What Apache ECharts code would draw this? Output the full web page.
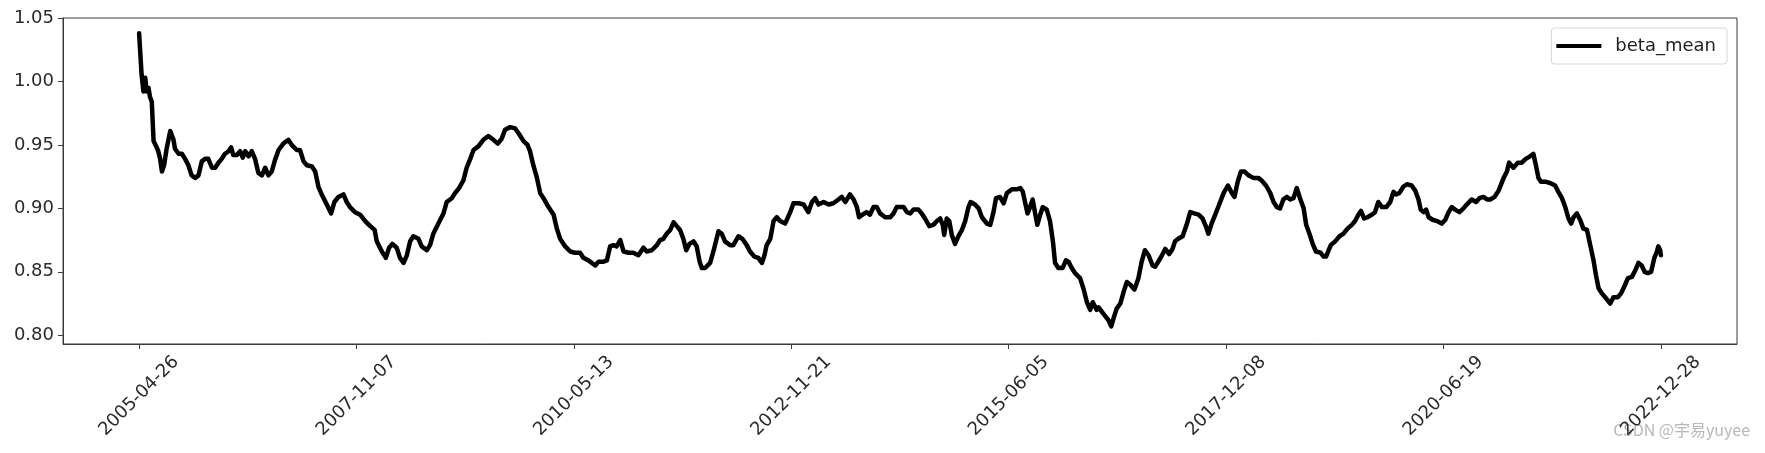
<!DOCTYPE html>
<html>
<head>
<meta charset="utf-8">
<script src="https://cdn.jsdelivr.net/npm/echarts@6/dist/echarts.min.js"></script>
<style>html,body{margin:0;padding:0;background:#fff;}#c{width:1765px;height:453px;}</style>
</head>
<body>
<div id="c"></div>
<script>
// row index (trading-day position) of each sampled point
const xIndex = [
0,7,12,17,21,26,30,35,40,47,
53,58,63,69,76,86,95,99,109,118,
127,136,145,155,164,173,182,191,201,210,
219,228,237,247,254,260,270,279,286,293,
302,311,320,329,339,348,357,366,375,385,
398,412,421,435,444,454,463,477,486,495,
504,518,530,539,550,564,573,582,596,610,
624,638,650,656,670,681,690,699,711,720,
730,739,748,757,771,780,794,803,812,826,
840,849,863,872,883,895,904,914,923,937,
950,964,978,990,1001,1010,1024,1038,1050,1061,
1072,1079,1088,1098,1107,1116,1130,1144,1153,1162,
1176,1190,1203,1217,1226,1240,1259,1268,1282,1291,
1300,1309,1318,1328,1337,1351,1364,1378,1392,1401,
1415,1429,1438,1447,1456,1466,1475,1484,1493,1502,
1510,1519,1530,1539,1547,1553,1562,1576,1585,1599,
1608,1617,1631,1640,1654,1665,1677,1686,1698,1709,
1719,1726,1732,1742,1751,1760,1769,1783,1797,1806,
1820,1834,1847,1857,1866,1875,1889,1903,1916,1930,
1939,1949,1962,1972,1981,1987,1996,2008,2017,2027,
2036,2045,2059,2073,2082,2091,2110,2119,2128,2137,
2151,2160,2169,2181,2192,2202,2211,2218,2222,2229,
2236,2243,2252,2261,2271,2280,2289,2295,2307,2317,
2326,2340,2349,2358,2365,2376,2386,2395,2409,2422,
2432,2439,2445,2452,2459,2466,2473,2479,2487,2494,
2505,2514,2522,2528,2537,2549,2558,2565,2574,2583,
2597,2606,2616,2625,2632,2643,2648,2661,2675,2683,
2689,2698,2708,2717,2726,2735,2747,2758,2767,2776,
2786,2797,2804,2813,2823,2832,2843,2852,2859,2868,
2880,2891,2901,2912,2924,2935,2944,2951,2960,2970,
2981,2993,3005,3016,3023,3032,3041,3051,3062,3075,
3089,3098,3110,3122,3131,3140,3149,3158,3168,3177,
3186,3195,3204,3214,3221,3230,3239,3248,3261,3269,
3276,3283,3289,3301,3313,3324,3335,3347,3356,3365,
3372,3381,3390,3402,3411,3420,3430,3442,3453,3462,
3469,3478,3489,3499,3512,3522,3531,3537,3545,3552,
3559,3570,3582,3595,3605,3614,3623,3632,3644,3655,
3664,3678,3690,3699,3710,3720,3729,3741,3752,3766,
3775,3781,3793,3805,3816,3827,3839,3848,3855,3862,
3869,3881,3894,3908,3917,3927,3936,3945,3952,3959,
3968,3977,3986,3996,4005,4014,4021,4028,4037,4046,
4060,4069,4081,4090,4100,4109,4120,4129,4138,4147,
4155,4164,4173,4182,4189,4193,4198,4200
];
const betaMean = [
1.038,1.005,0.992,1.003,0.992,0.995,0.988,0.984,0.953,0.949,
0.945,0.939,0.929,0.934,0.947,0.961,0.954,0.947,0.943,0.943,
0.939,0.934,0.926,0.924,0.926,0.937,0.939,0.939,0.932,0.932,
0.936,0.939,0.943,0.945,0.948,0.942,0.942,0.945,0.940,0.945,
0.941,0.945,0.939,0.928,0.926,0.932,0.926,0.929,0.938,0.946,
0.951,0.954,0.950,0.946,0.946,0.937,0.934,0.933,0.929,0.917,
0.911,0.903,0.896,0.905,0.909,0.911,0.905,0.901,0.897,0.895,
0.890,0.886,0.883,0.874,0.866,0.861,0.869,0.872,0.869,0.861,
0.857,0.863,0.874,0.878,0.876,0.870,0.867,0.871,0.880,0.888,
0.896,0.905,0.908,0.912,0.916,0.922,0.932,0.939,0.946,0.949,
0.954,0.957,0.954,0.951,0.955,0.962,0.964,0.963,0.958,0.953,
0.950,0.945,0.934,0.924,0.912,0.908,0.901,0.895,0.884,0.876,
0.870,0.866,0.865,0.865,0.861,0.859,0.855,0.858,0.858,0.859,
0.870,0.871,0.870,0.875,0.866,0.865,0.865,0.863,0.869,0.866,
0.867,0.871,0.875,0.876,0.880,0.883,0.889,0.886,0.883,0.876,
0.867,0.872,0.874,0.870,0.858,0.853,0.853,0.857,0.866,0.882,
0.880,0.874,0.871,0.871,0.878,0.876,0.871,0.866,0.862,0.861,
0.857,0.863,0.871,0.876,0.890,0.893,0.890,0.888,0.897,0.904,
0.904,0.903,0.897,0.905,0.908,0.903,0.905,0.903,0.904,0.907,
0.909,0.905,0.911,0.907,0.901,0.893,0.895,0.897,0.895,0.901,
0.901,0.896,0.893,0.893,0.896,0.901,0.901,0.897,0.896,0.899,
0.899,0.896,0.892,0.886,0.887,0.890,0.892,0.887,0.879,0.892,
0.890,0.879,0.872,0.878,0.883,0.890,0.901,0.905,0.903,0.900,
0.893,0.888,0.887,0.897,0.908,0.909,0.904,0.912,0.915,0.915,
0.916,0.913,0.905,0.896,0.901,0.907,0.896,0.887,0.895,0.901,
0.899,0.890,0.874,0.857,0.853,0.853,0.859,0.858,0.853,0.849,
0.845,0.837,0.826,0.820,0.826,0.820,0.822,0.817,0.812,0.807,
0.813,0.821,0.825,0.834,0.842,0.840,0.836,0.845,0.858,0.867,
0.863,0.855,0.854,0.858,0.863,0.868,0.864,0.868,0.874,0.876,
0.878,0.887,0.897,0.896,0.895,0.892,0.886,0.880,0.888,0.895,
0.903,0.912,0.918,0.912,0.909,0.921,0.929,0.929,0.926,0.924,
0.924,0.922,0.918,0.912,0.905,0.901,0.900,0.907,0.909,0.907,
0.908,0.916,0.908,0.900,0.887,0.880,0.872,0.866,0.865,0.862,
0.862,0.867,0.871,0.874,0.878,0.880,0.884,0.887,0.890,0.895,
0.898,0.892,0.893,0.895,0.897,0.905,0.901,0.901,0.905,0.913,
0.911,0.912,0.917,0.919,0.918,0.914,0.907,0.899,0.897,0.899,
0.893,0.891,0.890,0.888,0.891,0.897,0.901,0.899,0.897,0.900,
0.903,0.907,0.905,0.908,0.909,0.907,0.907,0.909,0.914,0.924,
0.929,0.936,0.932,0.936,0.936,0.939,0.941,0.943,0.934,0.924,
0.921,0.921,0.920,0.918,0.913,0.908,0.901,0.892,0.888,0.893,
0.896,0.891,0.884,0.883,0.871,0.859,0.847,0.837,0.833,0.830,
0.825,0.830,0.830,0.833,0.839,0.845,0.846,0.851,0.857,0.855,
0.850,0.849,0.850,0.861,0.866,0.870,0.867,0.863
];
// x tick positions (row index) and their date labels
const xTickIndex = [0, 600, 1200, 1800, 2400, 3000, 3600, 4200];
const xTickLabels = ['2005-04-26','2007-11-07','2010-05-13','2012-11-21','2015-06-05','2017-12-08','2020-06-19','2022-12-28'];
const yTicks = [0.80, 0.85, 0.90, 0.95, 1.00, 1.05];

const seriesData = xIndex.map((x, i) => [x, betaMean[i]]);
const FONT = 'DejaVu Sans';
const chart = echarts.init(document.getElementById('c'), null, {renderer: 'canvas'});
chart.setOption({
  animation: false,
  backgroundColor: '#fff',
  grid: {left: 63, right: 28, top: 18, bottom: 109, show: true, borderColor: '#3a3a3a', borderWidth: 1, backgroundColor: 'transparent'},
  legend: {
    data: ['beta_mean'], right: 38, top: 28, icon: 'rect', itemWidth: 45, itemHeight: 4,
    padding: [9, 11, 9, 5], borderColor: '#d6d6d6', borderWidth: 1, borderRadius: 3, backgroundColor: '#fff',
    textStyle: {fontFamily: FONT, fontSize: 18, color: '#222', padding: [0, 0, 0, 9]}
  },
  xAxis: {
    type: 'value', min: -210, max: 4410,
    axisLine: {show: true, onZero: false, lineStyle: {color: '#3a3a3a', width: 1}},
    axisTick: {show: true, length: 5, lineStyle: {color: '#3a3a3a'}, customValues: xTickIndex},
    axisLabel: {
      customValues: xTickIndex, rotate: 45, align: 'center', verticalAlign: 'middle', margin: 52,
      fontFamily: FONT, fontSize: 18, color: '#2a2a2a',
      formatter: v => { const k = xTickIndex.indexOf(Math.round(v)); return k >= 0 ? xTickLabels[k] : ''; }
    },
    splitLine: {show: false}
  },
  yAxis: {
    type: 'value', min: 0.7931, max: 1.05,
    axisLine: {show: true, onZero: false, lineStyle: {color: '#3a3a3a', width: 1}},
    axisTick: {show: true, length: 5, lineStyle: {color: '#3a3a3a'}, customValues: yTicks},
    axisLabel: {customValues: yTicks, margin: 9, fontFamily: FONT, fontSize: 18, color: '#2a2a2a', formatter: v => v.toFixed(2)},
    splitLine: {show: false}
  },
  series: [{
    name: 'beta_mean', type: 'line', data: seriesData, showSymbol: false, symbol: 'none',
    lineStyle: {color: '#000', width: 4.5, cap: 'round', join: 'round'},
    itemStyle: {color: '#000'}
  }],
  graphic: [{
    type: 'text', right: 15, top: 422,
    style: {text: 'CSDN @宇易yuyee', fontFamily: 'Noto Sans CJK SC', fontSize: 16, fill: 'rgba(160,160,160,0.75)'}
  }]
});
</script>
</body>
</html>
